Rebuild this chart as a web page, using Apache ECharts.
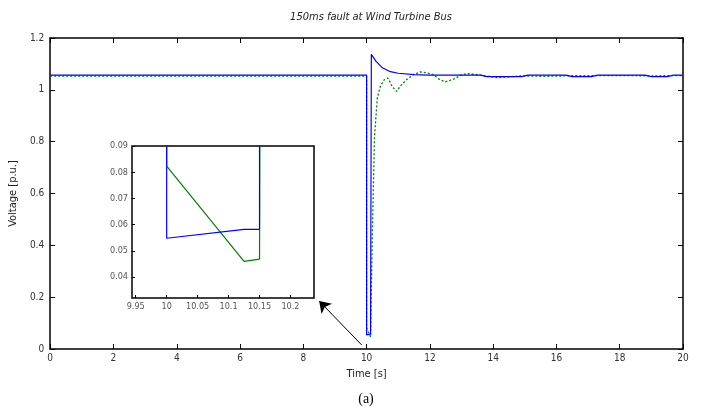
<!DOCTYPE html>
<html>
<head>
<meta charset="utf-8">
<script src="https://cdn.jsdelivr.net/npm/echarts@6/dist/echarts.min.js"></script>
<style>
  html, body { margin: 0; padding: 0; background: #fff; }
  #chart { width: 701px; height: 415px; }
</style>
</head>
<body>
<div id="chart"></div>
<script>
// wind turbine bus voltage, [time s, voltage p.u.]
const blueVoltage = [
  [0, 1.057], [10, 1.057], [10, 0.0548], [10.125, 0.0582], [10.15, 0.0582],
  [10.15, 1.137], [10.3, 1.11], [10.5, 1.085], [10.75, 1.07], [11, 1.064],
  [11.5, 1.059], [12, 1.057], [13.6, 1.057], [13.8, 1.051], [14.9, 1.051],
  [15.1, 1.057], [16.3, 1.057], [16.5, 1.051], [17.1, 1.051], [17.3, 1.057],
  [18.8, 1.057], [19, 1.051], [19.5, 1.051], [19.7, 1.057], [20, 1.057]
]
const greenVoltage = [
  [0, 1.053], [10, 1.053], [10, 0.0823], [10.125, 0.046], [10.15, 0.0468],
  [10.152, 0.25], [10.2, 0.55], [10.25, 0.82], [10.34, 0.97], [10.44, 1.015],
  [10.55, 1.038], [10.68, 1.045], [10.81, 1.012], [10.95, 0.994], [11.07, 1.015],
  [11.28, 1.041], [11.5, 1.06], [11.7, 1.069], [11.9, 1.066], [12.12, 1.058],
  [12.3, 1.04], [12.49, 1.031], [12.75, 1.041], [13.0, 1.058], [13.18, 1.063],
  [13.6, 1.057], [14.12, 1.047], [14.5, 1.05], [14.86, 1.054], [15.6, 1.052],
  [16.75, 1.055], [18, 1.055], [19.06, 1.054], [20, 1.055]
]
const insetXTicks = [9.95, 10, 10.05, 10.1, 10.15, 10.2]
const insetYTicks = [0.04, 0.05, 0.06, 0.07, 0.08, 0.09]

const chart = echarts.init(document.getElementById('chart'))
const narrow = '"Liberation Sans Narrow", "DejaVu Sans Condensed", sans-serif'
const frame = { show: true, onZero: false, lineStyle: { color: '#000', width: 1.5 } }
const inTick = { show: true, inside: true, length: 5, lineStyle: { color: '#000' } }
const lbl = { color: '#333', fontSize: 10, fontFamily: narrow }

const option = {
  animation: false,
  title: {
    text: '150ms fault at Wind Turbine Bus',
    left: 366, top: 7, textAlign: 'center',
    textStyle: { fontSize: 11, fontStyle: 'italic', fontWeight: 'normal', color: '#222', fontFamily: narrow }
  },
  graphic: [{
    type: 'text', x: 366, y: 392,
    style: { text: '(a)', textAlign: 'center', font: '14px "Liberation Serif", serif', fill: '#000' }
  }],
  grid: [
    { left: 49, top: 38, width: 634, height: 311 },
    { left: 132, top: 146, width: 182, height: 152, show: true, backgroundColor: '#fff', borderColor: '#000', borderWidth: 1.5 }
  ],
  xAxis: [
    {
      type: 'value', gridIndex: 0, min: 0, max: 20, interval: 2,
      name: 'Time [s]', nameLocation: 'middle', nameGap: 20,
      nameTextStyle: { fontSize: 11, color: '#222', fontFamily: narrow },
      axisLine: frame, axisTick: inTick, splitLine: { show: false },
      axisLabel: Object.assign({ margin: 4 }, lbl)
    },
    {
      type: 'value', gridIndex: 0, position: 'top', min: 0, max: 20, interval: 2,
      axisLine: frame, axisTick: inTick, splitLine: { show: false }, axisLabel: { show: false }
    },
    {
      type: 'value', gridIndex: 1, min: 9.944, max: 10.238,
      axisLine: { show: false }, splitLine: { show: false },
      axisTick: Object.assign({ customValues: insetXTicks }, inTick, { length: 3 }),
      axisLabel: Object.assign({ customValues: insetXTicks, margin: 4 }, lbl, { fontSize: 9, color: '#555' })
    }
  ],
  yAxis: [
    {
      type: 'value', gridIndex: 0, min: 0, max: 1.2, interval: 0.2,
      name: 'Voltage [p.u.]', nameLocation: 'middle', nameGap: 25,
      nameTextStyle: { fontSize: 11, color: '#222', fontFamily: narrow },
      axisLine: frame, axisTick: inTick, splitLine: { show: false },
      axisLabel: Object.assign({ margin: 6 }, lbl)
    },
    {
      type: 'value', gridIndex: 0, position: 'right', min: 0, max: 1.2, interval: 0.2,
      axisLine: frame, axisTick: inTick, splitLine: { show: false }, axisLabel: { show: false }
    },
    {
      type: 'value', gridIndex: 1, min: 0.032, max: 0.09,
      axisLine: { show: false }, splitLine: { show: false },
      axisTick: Object.assign({ customValues: insetYTicks }, inTick, { length: 3 }),
      axisLabel: Object.assign({ customValues: insetYTicks, margin: 4 }, lbl, { fontSize: 9, color: '#555' })
    }
  ],
  series: [
    {
      type: 'line', data: greenVoltage, xAxisIndex: 0, yAxisIndex: 0,
      showSymbol: false, lineStyle: { color: '#008000', width: 1.3, type: [2, 2] }
    },
    {
      type: 'line', data: blueVoltage, xAxisIndex: 0, yAxisIndex: 0,
      showSymbol: false, lineStyle: { color: '#0000ff', width: 1.2 },
      markLine: {
        silent: true, symbol: ['none', 'arrow'], symbolSize: 11,
        label: { show: false },
        lineStyle: { color: '#000', width: 1, type: 'solid' },
        data: [[{ coord: [9.85, 0.015] }, { coord: [8.5, 0.185] }]]
      }
    },
    {
      type: 'line', data: greenVoltage, xAxisIndex: 2, yAxisIndex: 2, clip: true,
      showSymbol: false, lineStyle: { color: '#008000', width: 1.2 }
    },
    {
      type: 'line', data: blueVoltage, xAxisIndex: 2, yAxisIndex: 2, clip: true,
      showSymbol: false, lineStyle: { color: '#0000ff', width: 1.2 }
    }
  ]
}
chart.setOption(option)
</script>
</body>
</html>
